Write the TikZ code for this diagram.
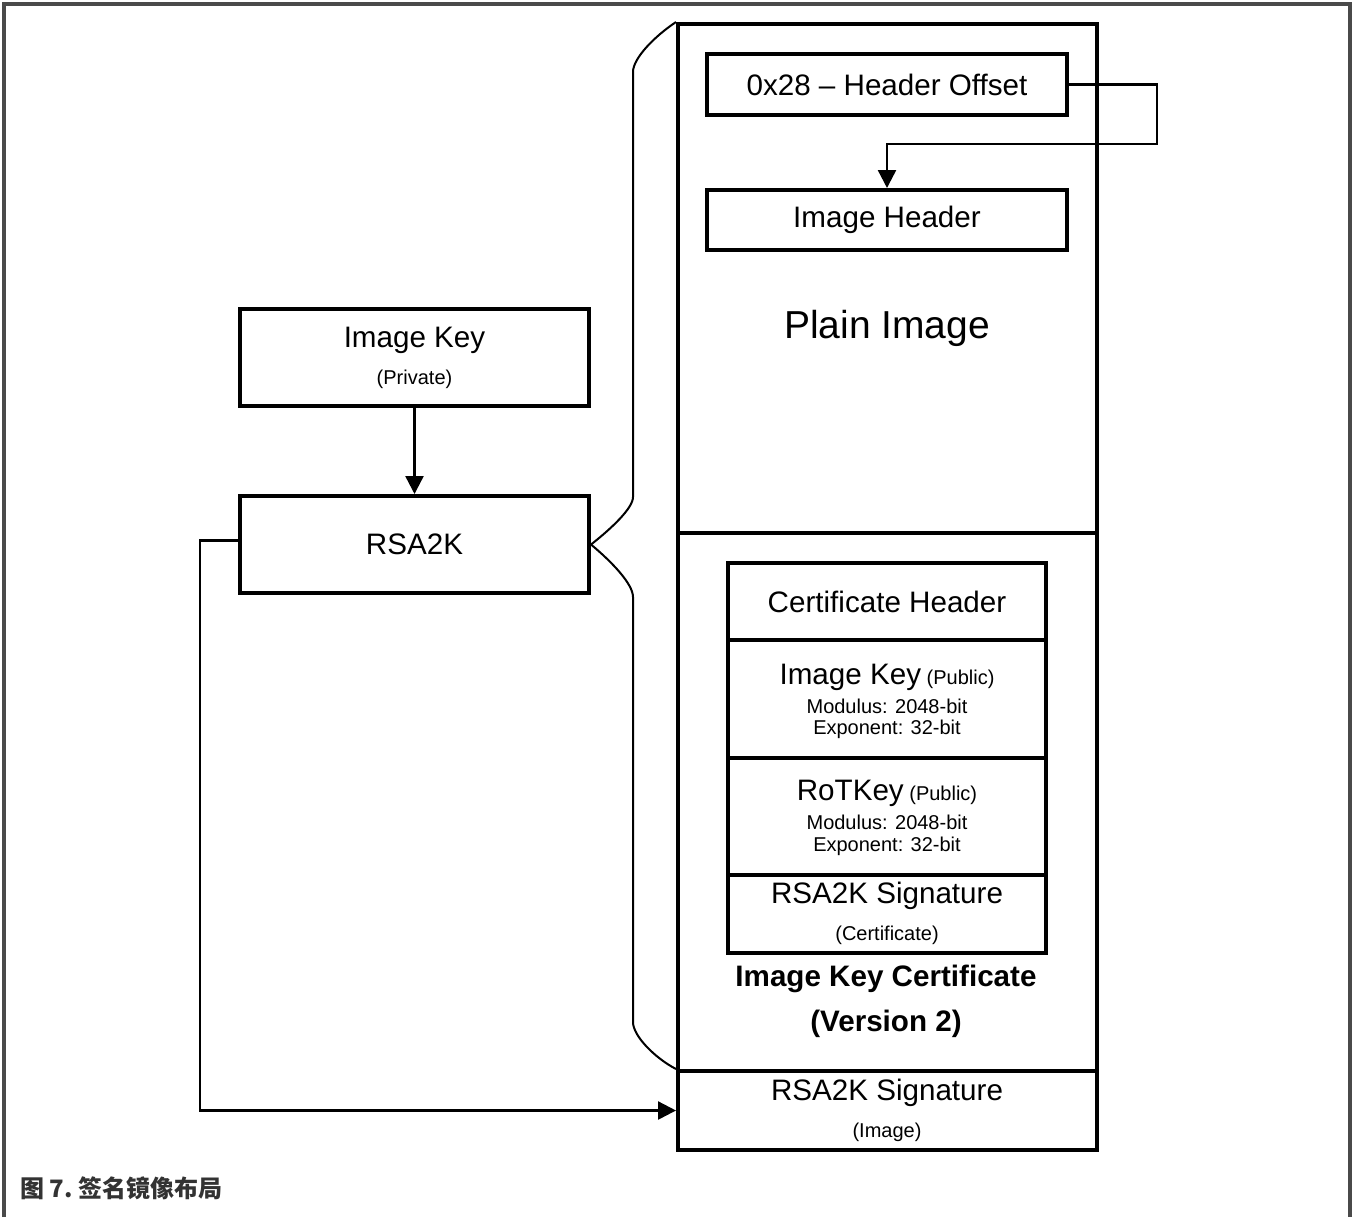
\documentclass[tikz,border=0pt]{standalone}
\usepackage{fontspec}
\setmainfont{Liberation Sans}
\newfontfamily\cjk{Noto Sans CJK SC}
\usetikzlibrary{arrows.meta}
\definecolor{framegray}{HTML}{4A4A4A}
\definecolor{captiongray}{HTML}{333333}
\tikzset{
  blk/.style={draw, line width=2pt, inner sep=0pt, rectangle},
  conn/.style={line width=1.2pt},
  arr/.style={conn, -{Triangle[length=9pt,width=9pt]}},
  brace/.style={line width=1pt},
  big/.style={font=\fontsize{14.8}{17}\selectfont},
  huge/.style={font=\fontsize{19.5}{22}\selectfont},
  small/.style={font=\fontsize{10}{12}\selectfont},
  txt/.style={inner sep=0pt, anchor=center, yshift=-0.6pt},
}
\begin{document}
\begin{tikzpicture}[x=0.5pt,y=-0.5pt]
\useasboundingbox (0,0) rectangle (1352,1217);
% outer frame
\draw[framegray, line width=2pt] (4,1217) -- (4,4) -- (1350,4) -- (1350,1217);

% image column
\node[blk, minimum width=209.5pt, minimum height=254.5pt] (plain) at (887.5,278.5) {};
\node[blk, minimum width=209.5pt, minimum height=269pt] (cert) at (887.5,802) {};
\node[blk, minimum width=209.5pt, minimum height=39.5pt] (sig) at (887.5,1110.5) {};

\node[blk, minimum width=180pt, minimum height=30.5pt] (hdr) at (887,84.5) {};
\node[txt, big] (hdrtxt) at (887,84) {0x28 -- Header Offset};
\node[blk, minimum width=180pt, minimum height=30pt] (imghdr) at (887,220) {};
\node[txt, big] (imghdrtxt) at (887,219) {Image Header};
\node[txt, huge] (plaintxt) at (887,327) {Plain Image};

% certificate boxes
\node[blk, minimum width=159pt, minimum height=38.5pt] (chdr) at (887,601.5) {};
\node[txt, big] (chdrtxt) at (887,601) {Certificate Header};
\node[blk, minimum width=159pt, minimum height=59pt] (ikpub) at (887,699) {};
\node[txt] (ikpubtxt) at (887,676) {{\fontsize{14.8}{17}\selectfont Image Key} {\fontsize{10}{12}\selectfont(Public)}};
\node[txt, small] (ikmod) at (887,705) {Modulus: 2048-bit};
\node[txt, small] (ikexp) at (887,728) {Exponent: 32-bit};
\node[blk, minimum width=159pt, minimum height=58.5pt] (rot) at (887,816.5) {};
\node[txt] (rottxt) at (887,792) {{\fontsize{14.8}{17}\selectfont RoTKey} {\fontsize{10}{12}\selectfont(Public)}};
\node[txt, small] (rotmod) at (887,821) {Modulus: 2048-bit};
\node[txt, small] (rotexp) at (887,845) {Exponent: 32-bit};
\node[blk, minimum width=159pt, minimum height=39pt] (csig) at (887,914) {};
\node[txt, big] (csigtxt) at (887,895) {RSA2K Signature};
\node[txt, small] (csigsub) at (887,934) {(Certificate)};
\node[txt, font=\fontsize{14.8}{17}\selectfont\bfseries] (certtitle) at (886,978) {Image Key Certificate};
\node[txt, font=\fontsize{14.8}{17}\selectfont\bfseries] (certver) at (886,1023) {(Version 2)};

\node[txt, big] (sigtxt) at (887,1092) {RSA2K Signature};
\node[txt, small] (sigsub) at (887,1131) {(Image)};

% key boxes
\node[blk, minimum width=174.5pt, minimum height=48.5pt] (ikey) at (414.5,357.5) {};
\node[txt, big] (ikeytxt) at (414.5,339) {Image Key};
\node[txt, small] (ikeysub) at (414.5,378) {(Private)};
\node[blk, minimum width=174.5pt, minimum height=48.5pt] (rsa) at (414.5,544.5) {};
\node[txt, big] (rsatxt) at (414.5,543) {RSA2K};

% connectors
\coordinate (bendA) at (1157,144);
\coordinate (bendB) at (200,1110.5);
\draw[arr] (hdr.east) -| (bendA) -| (imghdr.north);
\draw[arr] (ikey.south) -- (rsa.north);
\draw[arr] ([yshift=2pt]rsa.west) -| (bendB) -- (sig.west);

% brace spanning the signed part of the image
\draw[brace] (rsa.east) .. controls (612,528) and (633,508) .. (633,497)
  -- (633,72) .. controls (633,58) and (655,36) .. (plain.north west);
\draw[brace] (rsa.east) .. controls (612,562) and (633,584) .. (633,597)
  -- (633,1022) .. controls (633,1036) and (655,1058) .. (sig.north west);

% caption
\node[anchor=west, inner sep=0pt, text=captiongray, font=\cjk\bfseries\fontsize{12}{14}\selectfont] (caption) at (20,1188) {图\ 7.\ 签名镜像布局};
\end{tikzpicture}
\end{document}
